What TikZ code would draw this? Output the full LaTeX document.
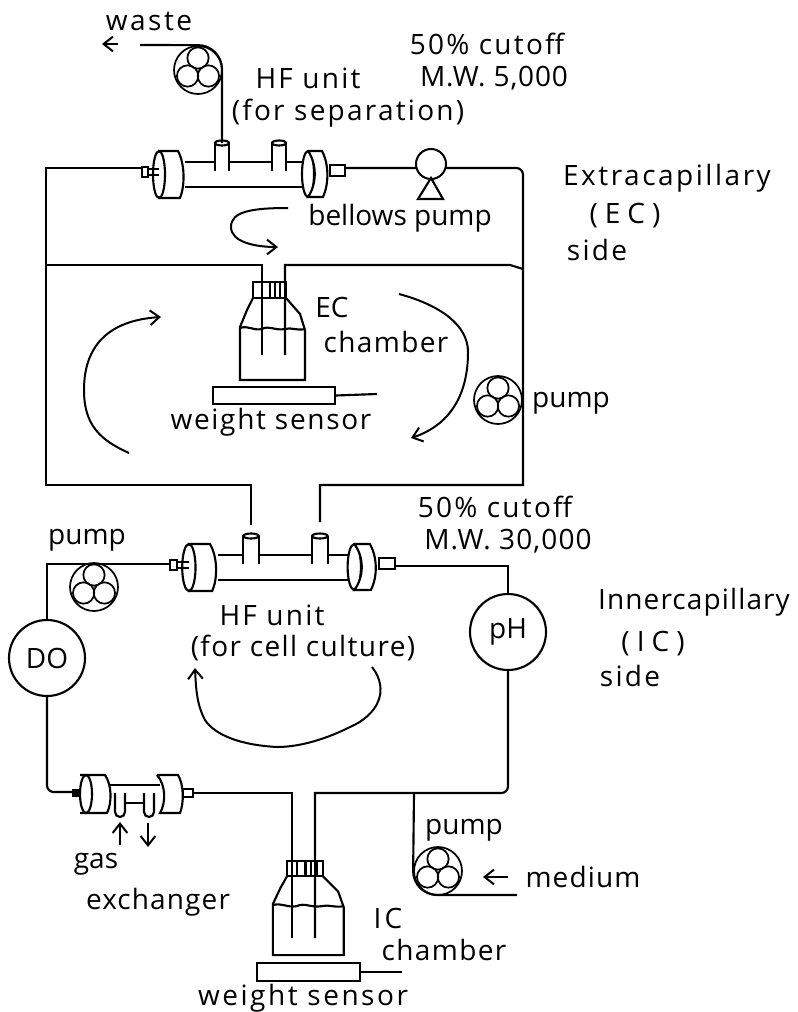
\documentclass[tikz,border=0pt]{standalone}
\usepackage{fontspec}
\setmainfont{Open Sans}
\usetikzlibrary{
  arrows.meta,
  calc
}
% hollow-fibre unit: x, y, xscale, first tube, second tube
\newcommand{\hfunit}[5]{
  \begin{scope}[shift={(#1,#2)}, xscale=#3]
    \draw[pipe] (43,-12) -- (160,-12) (43,13) -- (160,13);
    \foreach \tb in {#4,#5} {
      \fill[white] (\tb-7,-31) rectangle (\tb+7,-3);
      \draw[pipe] (\tb-7,-3) -- (\tb-7,-31) (\tb+7,-3) -- (\tb+7,-31);
      \draw[pipe] (\tb,-31) ellipse [x radius=7, y radius=2.5];
    }
    \draw[pipe, fill=white] (16,-23) -- (36,-23) .. controls (43,-10) and (43,12) .. (38,24) -- (16,24);
    \draw[pipe, fill=white] (17,0.5) ellipse [x radius=6, y radius=23.5];
    \draw[pipe, fill=white] (0,-7) rectangle (6,3);
    \draw[pipe] (6,-5) -- (17,-5) (6,1) -- (17,1);
    \draw[pipe, fill=white] (166,0) ellipse [x radius=6, y radius=23];
    \draw[pipe, fill=white] (166,-23) -- (180,-23) .. controls (187,-10) and (187,10) .. (181,23) -- (166,23)
      .. controls (175,10) and (175,-10) .. (166,-23);
    \draw[pipe, fill=white] (188,-9) rectangle (203,2);
  \end{scope}
}
% bottle: x, y of the cap corner, xscale, yscale
\newcommand{\bottle}[4]{
  \begin{scope}[shift={(#1,#2)}, xscale=#3, yscale=#4]
    \draw[pipe] (0,16) -- (-6,28) -- (-13,45) -- (-13,98) -- (52,98) -- (52,48) -- (47,32) -- (33,16);
    \draw[pipe, fill=white] (0,0) rectangle (33,16);
    \foreach \rb in {9,17,22,27} \draw[pipe] (\rb,0) -- (\rb,16);
    \draw[pipe] (-13,46) .. controls (-5,43) and (0,49) .. (9,47) .. controls (16,43) and (22,49) .. (32,47)
      .. controls (38,45) and (44,49) .. (52,47);
  \end{scope}
}
% roller pump: name, x, y
\newcommand{\rollerpump}[3]{
  \node[pumpring] (#1) at (#2,#3) {};
  \foreach \ra in {-90,30,150}
    \node[roller] (#1\ra) at ($(#1)+(\ra:12)$) {};
}
\begin{document}
\begin{tikzpicture}[
  x=0.75pt, y=-0.75pt,
  pipe/.style={line width=1.6pt},
  flow/.style={line width=1.5pt, -{Straight Barb[length=7pt,width=11pt,line width=1.5pt]}},
  lab/.style={inner sep=0pt, font=\fontsize{21}{24}\selectfont\addfontfeature{LetterSpace=#1}},
  lab/.default=0,
  pumpring/.style={draw, circle, line width=1.3pt, minimum size=36pt, inner sep=0pt},
  roller/.style={draw, circle, line width=1.3pt, minimum size=16pt, inner sep=0pt},
  meter/.style={draw, circle, line width=1.6pt, minimum size=57pt, inner sep=0pt, font=\fontsize{21}{24}\selectfont},
  sensor/.style={draw, line width=1.6pt, inner sep=0pt}
]
  \useasboundingbox (0,0) rectangle (797,1012);

  % pipe corners and ends
  \coordinate (wasteEnd) at (140,45);
  \coordinate (sepL) at (142,168);
  \coordinate (sepA) at (222,143);
  \coordinate (sepR) at (345,168);
  \coordinate (corTL) at (46,168);
  \coordinate (corBL) at (46,485);
  \coordinate (corTR) at (523,168);
  \coordinate (corBR) at (523,485);
  \coordinate (midL) at (46,265);
  \coordinate (midJ) at (510,265);
  \coordinate (midR) at (523,269);
  \coordinate (ecA) at (262,355);
  \coordinate (ecB) at (285,355);
  \coordinate (ecWire) at (377,394);
  \coordinate (cultA) at (251,525);
  \coordinate (cultB) at (320,522);
  \coordinate (cultL) at (170,564);
  \coordinate (cultR) at (396,566);
  \coordinate (corCL) at (47,564);
  \coordinate (gasL) at (73,792);
  \coordinate (gasR) at (193,793);
  \coordinate (icA) at (292,938);
  \coordinate (icB) at (315,938);
  \coordinate (icJ) at (315,793);
  \coordinate (corIR) at (508,793);
  \coordinate (medJ) at (414,793);
  \coordinate (medEnd) at (517,895);
  \coordinate (icWire) at (402,972);

  % pipes
  \draw[pipe] (sepL) -- (corTL) -- (corBL) -| (cultA);
  \draw[pipe] (midL) -| (ecA);
  \draw[pipe] (ecB) |- (midJ) -- (midR);
  \draw[pipe] (cultB) |- (corBR) [rounded corners=5pt] -- (corTR) [sharp corners] -- (sepR);

  \rollerpump{wastePump}{198}{70}
  \rollerpump{ecPump}{498}{400}
  \rollerpump{cultPump}{94}{587}
  \rollerpump{medPump}{438}{871}

  \draw[pipe] (wasteEnd) -- (wastePump.north) arc[start angle=-90, end angle=0, radius=24] -- (sepA);
  \draw[pipe] (medJ) -- (medPump.west) arc[start angle=180, end angle=90, radius=24] -- (medEnd);

  % bellows pump
  \node[draw, circle, line width=1.5pt, fill=white, minimum size=22.5pt, inner sep=0pt] (bellows) at (431,164) {};
  \draw[pipe] (418,199) -- (431,178) -- (443,199) -- cycle;

  % units
  \hfunit{142}{174}{1}{80}{137}
  \hfunit{170}{567}{1.11}{73}{135}

  % gas exchanger
  \draw[pipe] (108,785) -- (160,785);
  \draw[pipe] (125,803) -- (144,803);
  \foreach \gx in {115,144} {
    \draw[pipe] (\gx,793) -- (\gx,812) arc[start angle=180, end angle=0, x radius=5, y radius=5] -- (\gx+10,793);
  }
  \draw[pipe, fill=white] (80,775) -- (105,775) .. controls (112,785) and (112,803) .. (107,813) -- (80,813);
  \draw[pipe, fill=white] (86,794) ellipse [x radius=6, y radius=19];
  \draw[pipe, fill=black] (73,790) rectangle (79,796);
  \draw[pipe, fill=white] (157,775) -- (178,775) .. controls (184,785) and (184,803) .. (180,813) -- (160,813)
    .. controls (166,803) and (166,785) .. (157,775);
  \draw[pipe, fill=white] (183,789) rectangle (193,797);
  \draw[flow] (120,845) -- (120,822);
  \draw[flow] (148,823) -- (148,847);

  % instruments
  \node[meter] (doMeter) at (47,658) {DO};
  \node[meter] (phMeter) at (508,632) {pH};
  \draw[pipe] (cultL) -- (corCL) -- (doMeter.north);
  \draw[pipe] (cultR) -| (phMeter.north);
  \draw[pipe, rounded corners=5pt] (doMeter.south) |- (gasL);
  \draw[pipe] (gasR) -| (icA);
  \draw[pipe] (icB) -- (icJ) -- (medJ) [rounded corners=5pt] -- (corIR) -- (phMeter.south);

  % chambers
  \bottle{253}{282}{1}{1}
  \draw[pipe] (262,282) -- (ecA) (285,282) -- (ecB);
  \bottle{287}{861}{1.09}{0.96}
  \draw[pipe] (292,861) -- (icA) (315,861) -- (icB);
  \node[sensor, minimum width=91.5pt, minimum height=12.75pt] (ecSensor) at (274,395.5) {};
  \node[sensor, minimum width=77pt, minimum height=13.5pt] (icSensor) at (308.5,972) {};
  \draw[pipe] (ecSensor.east) -- (ecWire);
  \draw[pipe] (icSensor.east) -- (icWire);

  % flow directions
  \draw[flow] (288,208) .. controls (250,208) and (231,212) .. (231,227) .. controls (231,242) and (255,247) .. (278,247);
  \draw[flow] (129,453) .. controls (100,440) and (84,425) .. (84,390) .. controls (84,340) and (115,320) .. (161,317);
  \draw[flow] (399,294) .. controls (440,305) and (468,325) .. (468,352) .. controls (468,395) and (450,425) .. (411,438);
  \draw[flow] (372,667) .. controls (390,690) and (378,715) .. (350,727) .. controls (320,742) and (295,747) .. (277,747)
    .. controls (240,745) and (215,735) .. (205,720) .. controls (197,705) and (196,690) .. (195,668);
  \draw[flow] (118,44) -- (102,44);
  \draw[flow] (508,877) -- (483,877);

  % labels
  \node[lab=9] (wasteLab) at (149,21) {waste};
  \node[lab=8] (cutA) at (487,44) {50\% cutoff};
  \node[lab=8] (hfA) at (308,78) {HF unit};
  \node[lab=3] (mwA) at (494,78) {M.W. 5,000};
  \node[lab=8] (hfAsub) at (348,113) {(for separation)};
  \node[lab] (bellowsLab) at (400,218) {bellows pump};
  \node[lab=9] (extraLab) at (667,178) {Extracapillary};
  \node[lab=25] (extraSub) at (625,216) {(EC)};
  \node[lab=8] (extraSide) at (597,250) {side};
  \node[lab] (ecLab) at (332,307) {EC};
  \node[lab=5] (ecChamber) at (386,342) {chamber};
  \node[lab=6] (ecSensorLab) at (271,422) {weight sensor};
  \node[lab] (ecPumpLab) at (571,403) {pump};
  \node[lab=8] (cutB) at (495,507) {50\% cutoff};
  \node[lab=4] (mwB) at (508,541) {M.W. 30,000};
  \node[lab] (cultPumpLab) at (87,540) {pump};
  \node[lab=8] (hfB) at (272,615) {HF unit};
  \node[lab=5] (hfBsub) at (303,648) {(for cell culture)};
  \node[lab=4] (innerLab) at (694,602) {Innercapillary};
  \node[lab=25] (innerSub) at (653,644) {(IC)};
  \node[lab=8] (innerSide) at (630,676) {side};
  \node[lab] (medPumpLab) at (464,830) {pump};
  \node[lab=4] (mediumLab) at (583,877) {medium};
  \node[lab] (gasLab) at (96,864) {gas};
  \node[lab=4] (gasLabB) at (158,902) {exchanger};
  \node[lab=12] (icLab) at (388,918) {IC};
  \node[lab=5] (icChamber) at (444,950) {chamber};
  \node[lab=9] (icSensorLab) at (303,998) {weight sensor};
\end{tikzpicture}
\end{document}
